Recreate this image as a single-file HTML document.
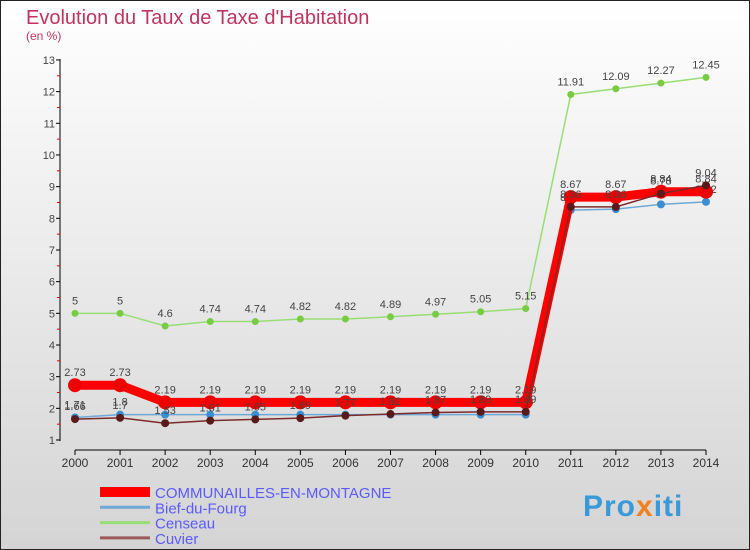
<!DOCTYPE html>
<html><head><meta charset="utf-8"><style>
body{margin:0;}
svg{display:block;font-family:"Liberation Sans",sans-serif;}
</style></head><body>
<svg id="c" width="750" height="550" xmlns="http://www.w3.org/2000/svg">
<defs><linearGradient id="bg" x1="0" y1="0" x2="0" y2="1"><stop offset="0" stop-color="#ffffff"/><stop offset="1" stop-color="#d4d4d4"/></linearGradient></defs>
<rect x="0.5" y="0.5" width="749" height="549" fill="url(#bg)" stroke="#222"/>
<text x="26" y="24" font-size="20" fill="#c0335f">Evolution du Taux de Taxe d'Habitation</text>
<text x="26" y="40" font-size="12" fill="#c0335f">(en %)</text>
<g id="axes"></g><g id="series"></g><g id="legend"></g>
<text x="583" y="516" font-size="30" font-weight="bold" letter-spacing="1" fill="#3a9ad9">Pro<tspan fill="#f08020">x</tspan>iti</text>
</svg>
<script>
const years=[2000,2001,2002,2003,2004,2005,2006,2007,2008,2009,2010,2011,2012,2013,2014];
const communeVals=[2.73,2.73,2.19,2.19,2.19,2.19,2.19,2.19,2.19,2.19,2.19,8.67,8.67,8.84,8.84];
const biefVals=[1.71,1.8,1.8,1.8,1.8,1.8,1.8,1.8,1.8,1.8,1.8,8.26,8.29,8.44,8.52];
const censeauVals=[5,5,4.6,4.74,4.74,4.82,4.82,4.89,4.97,5.05,5.15,11.91,12.09,12.27,12.45];
const cuvierVals=[1.66,1.7,1.53,1.61,1.65,1.69,1.77,1.82,1.87,1.89,1.89,8.36,8.36,8.78,9.04];
const yTicks=[1,2,3,4,5,6,7,8,9,10,11,12,13];
const NS="http://www.w3.org/2000/svg";
const x=i=>75+i*(631/14);
const y=v=>440-(v-1)*31.67;
function mk(p,t,a){const e=document.createElementNS(NS,t);for(const k in a)e.setAttribute(k,a[k]);p.appendChild(e);return e;}
const ax=document.getElementById('axes');
let l=mk(ax,'line',{x1:60,y1:59,x2:60,y2:441,stroke:'#000'});


yTicks.forEach(v=>{
  mk(ax,'line',{x1:56,y1:y(v),x2:60,y2:y(v),stroke:'#000'});
  if(v<13)mk(ax,'line',{x1:57,y1:y(v+0.5),x2:60,y2:y(v+0.5),stroke:'#e00'});
  const t=mk(ax,'text',{x:55,y:y(v)+4,'font-size':11,'text-anchor':'end',fill:'#444'});t.textContent=v;
  
  
});
l=mk(ax,'line',{x1:x(0),y1:450,x2:x(14),y2:450,stroke:'#000'});


years.forEach((yr,i)=>{
  mk(ax,'line',{x1:x(i),y1:450,x2:x(i),y2:455,stroke:'#000'});
  const t=mk(ax,'text',{x:x(i),y:467,'font-size':12,'text-anchor':'middle',fill:'#333'});t.textContent=yr;
  
  
});
const se=document.getElementById('series');
function draw(vals,color,w,r,dot,name,labels){
  const g=mk(se,'g',{});
  
  
  mk(g,'polyline',{points:vals.map((v,i)=>x(i)+','+y(v)).join(' '),fill:'none',stroke:color,'stroke-width':w,'stroke-linejoin':'round'});
  vals.forEach((v,i)=>{
    const c=mk(g,'circle',{cx:x(i),cy:y(v),r:r,fill:dot});
    
    
    if(labels){const t=mk(g,'text',{x:x(i),y:y(v)-9,'font-size':11,'text-anchor':'middle',fill:'#444'});t.textContent=String(v);}
  });
}
draw(censeauVals,'#99dd77',1.5,3.5,'#77cc44','series-censeau',true);
draw(biefVals,'#6fa8d6',1.5,4,'#3a8fd0','series-bief-du-fourg',true);
draw(communeVals,'#ff0000',9,7,'#ee0000','series-communailles',true);
draw(cuvierVals,'#7a2a2a',1.5,4,'#5a1a1a','series-cuvier',true);
const lg=document.getElementById('legend');
[['COMMUNAILLES-EN-MONTAGNE','#ff0000',10],['Bief-du-Fourg','#6fa8d6',3],['Censeau','#99dd77',3],['Cuvier','#9a5a5a',3]].forEach((d,i)=>{
  const g=mk(lg,'g',{});
  
  
  const yy=492+i*15.3;
  mk(g,'line',{x1:100,y1:yy,x2:150,y2:yy,stroke:d[1],'stroke-width':d[2]});
  const t=mk(g,'text',{x:155,y:yy+6,'font-size':15,fill:'#5a5aff'});t.textContent=d[0];
});
</script>
</body></html>
